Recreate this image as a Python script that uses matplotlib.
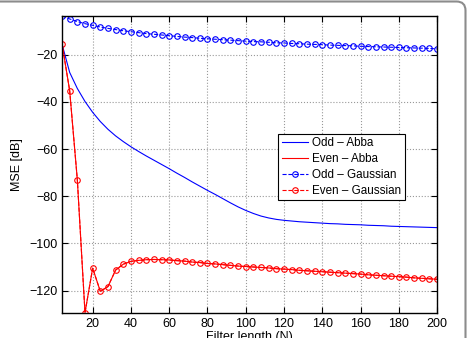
import numpy as np
import matplotlib
matplotlib.use("Agg")
import matplotlib.pyplot as plt
from matplotlib.patches import FancyBboxPatch

# filter lengths
N = np.arange(4, 201, 4)

odd_abba = [-15.5, -27.5, -34.3, -39.8, -44.4, -48.3, -51.6, -54.4, -56.8, -59.0,
            -61.0, -62.9, -64.7, -66.5, -68.3, -70.2, -72.0, -73.9, -75.7, -77.5,
            -79.2, -81.0, -82.8, -84.5, -86.0, -87.3, -88.4, -89.2, -89.8, -90.2,
            -90.5, -90.8, -91.0, -91.2, -91.4, -91.6, -91.7, -91.9, -92.0, -92.1,
            -92.3, -92.4, -92.5, -92.7, -92.8, -92.9, -93.0, -93.1, -93.2, -93.3]

even_gauss = [-15.3, -35.3, -73.1, -129.4, -110.5, -120.3, -118.3, -111.3, -108.8, -107.6,
              -107.2, -106.9, -106.8, -106.9, -107.0, -107.3, -107.5, -107.9, -108.1, -108.5,
              -108.7, -109.0, -109.3, -109.6, -109.8, -110.0, -110.2, -110.4, -110.7, -110.9,
              -111.1, -111.4, -111.6, -111.8, -112.0, -112.2, -112.4, -112.6, -112.8, -113.0,
              -113.3, -113.5, -113.7, -113.9, -114.1, -114.3, -114.6, -114.8, -115.0, -115.2]

# even Abba lies on top of the even Gaussian curve
even_abba = list(even_gauss)

odd_gauss = [-3.5, -4.8, -5.9, -6.8, -7.5, -8.2, -8.8, -9.3, -9.8, -10.2,
             -10.6, -11.0, -11.3, -11.6, -11.9, -12.2, -12.5, -12.7, -13.0, -13.2,
             -13.4, -13.6, -13.8, -14.0, -14.2, -14.4, -14.5, -14.7, -14.9, -15.0,
             -15.2, -15.3, -15.5, -15.6, -15.7, -15.9, -16.0, -16.1, -16.2, -16.4,
             -16.5, -16.6, -16.7, -16.8, -16.9, -17.0, -17.1, -17.2, -17.3, -17.5]

plt.rcParams['font.family'] = ['Liberation Sans', 'DejaVu Sans']
plt.rcParams['font.size'] = 9

fig = plt.figure(figsize=(4.7, 3.38), dpi=100)
ax = fig.add_axes([0.132, 0.074, 0.798, 0.879])

lw = 0.8
ax.plot(N, odd_abba, '-', color='b', lw=lw, label="Odd – Abba")
ax.plot(N, even_abba, '-', color='r', lw=lw, label="Even – Abba")
ax.plot(N, odd_gauss, '--o', color='b', lw=lw, ms=4, mfc='none', mew=0.8,
        label="Odd – Gaussian")
ax.plot(N, even_gauss, '--o', color='r', lw=lw, ms=4, mfc='none', mew=0.8,
        label="Even – Gaussian")

ax.set_xlim(4, 200)
ax.set_ylim(-129.5, -3.5)
ax.set_xticks(np.arange(20, 201, 20))
ax.set_yticks(np.arange(-120, -19, 20))
ax.tick_params(direction='in', top=True, right=True, length=4, width=0.8, labelsize=9)
for s in ax.spines.values():
    s.set_linewidth(1.0)
ax.grid(True, linestyle=':', color='0.6', lw=0.8)

ax.set_xlabel("Filter length (N)", fontsize=9, labelpad=1)
ax.set_ylabel("MSE [dB]", fontsize=9, labelpad=4)

leg = ax.legend(loc='lower left', bbox_to_anchor=(0.576, 0.38), borderaxespad=0,
                fancybox=False, edgecolor='black', framealpha=1, fontsize=8.4,
                handlelength=2.3, handletextpad=0.3, labelspacing=0.33,
                borderpad=0.3)
leg.get_frame().set_linewidth(0.8)

# rounded gray frame around the figure (clipped at left and bottom)
frame = FancyBboxPatch((-20, -20), 485.5, 356.5, boxstyle="round,pad=0,rounding_size=9",
                       transform=None, fill=False, edgecolor='0.55', lw=1.5,
                       figure=fig)
fig.patches.append(frame)

fig.savefig("out.png", dpi=100)
